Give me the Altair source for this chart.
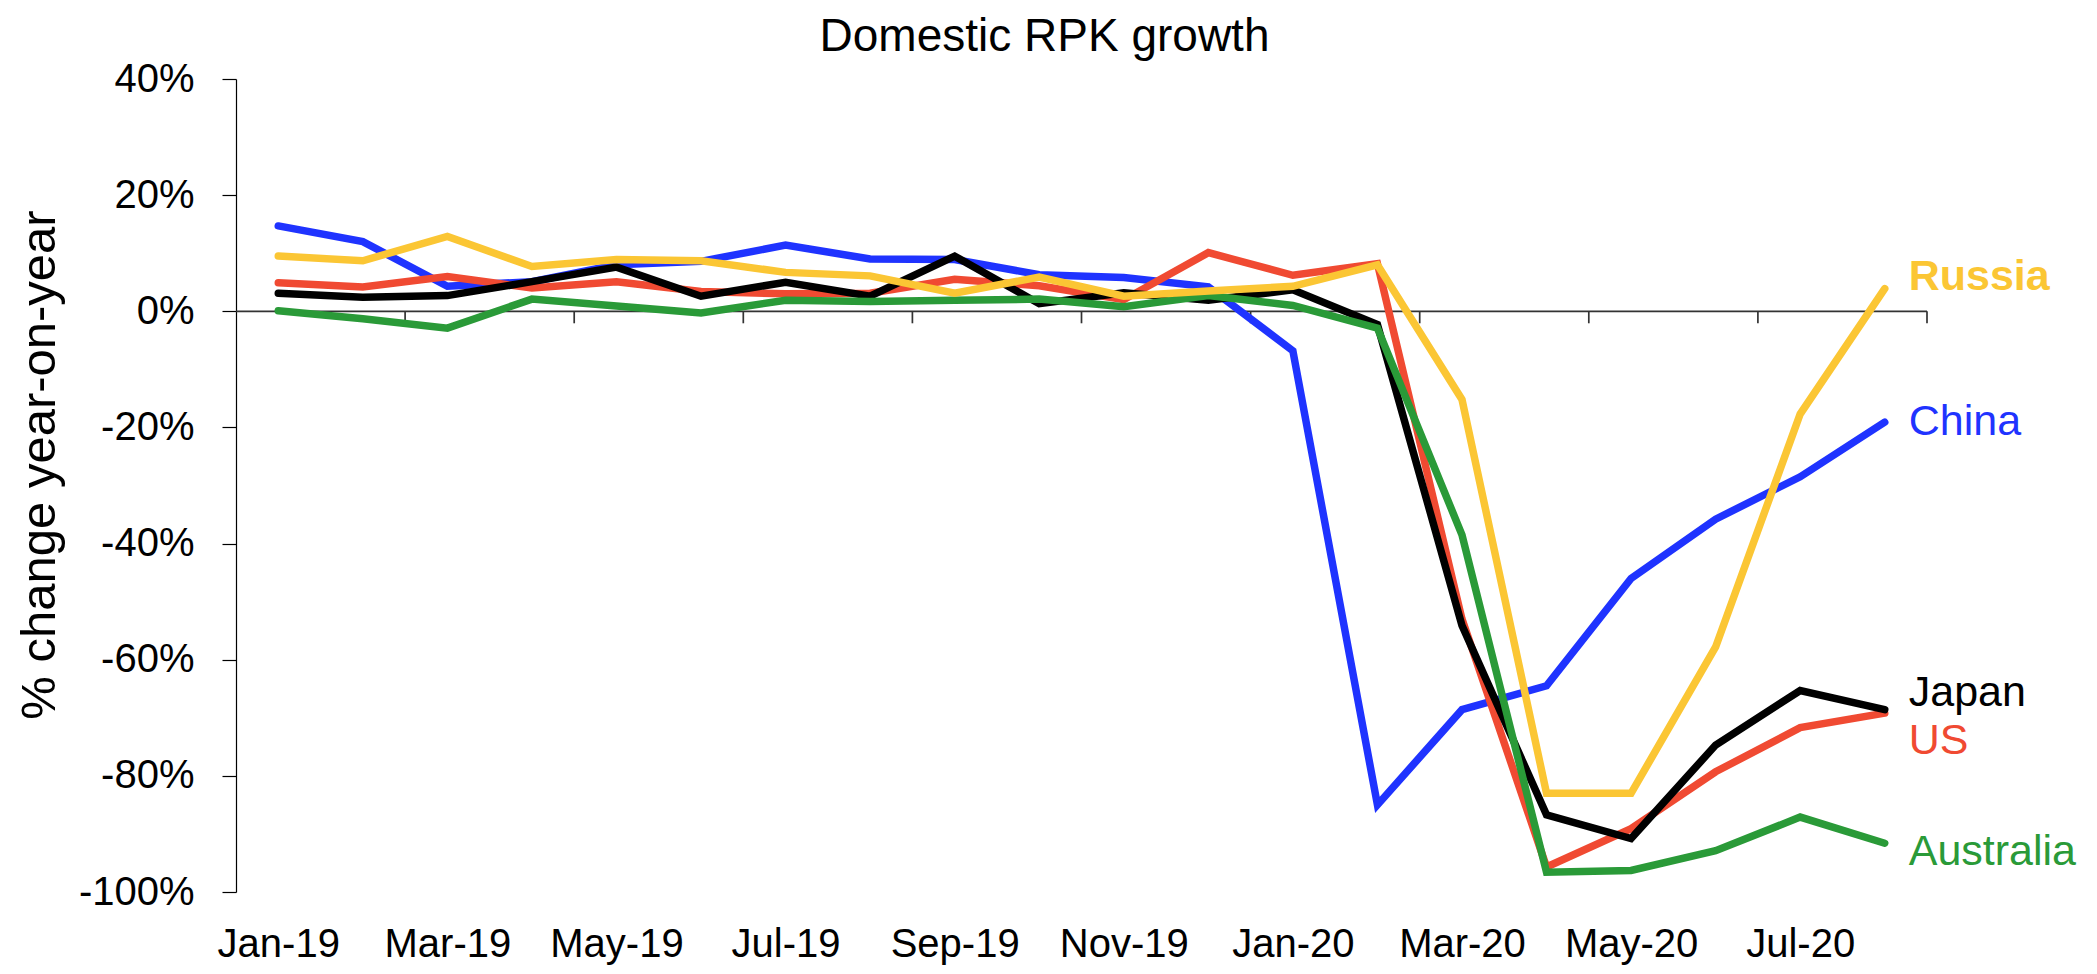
import altair as alt
import pandas as pd

months = ["Jan-19", "Feb-19", "Mar-19", "Apr-19", "May-19", "Jun-19", "Jul-19", "Aug-19",
          "Sep-19", "Oct-19", "Nov-19", "Dec-19", "Jan-20", "Feb-20", "Mar-20", "Apr-20",
          "May-20", "Jun-20", "Jul-20", "Aug-20"]

china = [14.7, 12.0, 4.3, 5.1, 8.0, 8.6, 11.4, 9.0, 8.9, 6.3, 5.8, 4.2,
         -6.8, -85.0, -68.6, -64.5, -46.0, -35.8, -28.5, -19.1]
us = [4.9, 4.2, 6.0, 4.0, 5.1, 3.4, 3.0, 3.1, 5.5, 4.4, 2.0, 10.1,
      6.2, 8.2, -53.0, -95.7, -89.1, -79.3, -71.7, -69.2]
japan = [3.1, 2.4, 2.7, 5.1, 7.6, 2.6, 5.0, 2.6, 9.5, 1.3, 3.2, 1.9,
         3.7, -2.3, -54.1, -86.7, -90.8, -74.7, -65.3, -68.6]
australia = [0.1, -1.3, -2.9, 2.1, 0.9, -0.3, 1.9, 1.7, 1.9, 2.1, 0.8, 2.7,
             1.0, -2.9, -38.5, -96.6, -96.3, -92.9, -87.1, -91.6]
russia = [9.5, 8.7, 12.9, 7.7, 8.9, 8.7, 6.7, 6.1, 3.1, 5.9, 2.6, 3.5,
          4.3, 8.0, -15.2, -83.0, -83.0, -57.8, -17.7, 3.9]

series_names = ["China", "US", "Japan", "Australia", "Russia"]
series_values = [china, us, japan, australia, russia]

y_ticks = [-100, -80, -60, -40, -20, 0, 20, 40]
x_label_idx = list(range(0, 20, 2))
x_tick_pos = [i + 0.5 for i in range(1, 20, 2)]

# styles
colors = {"China": "#1f33ff", "US": "#f04a32", "Japan": "#000000",
          "Australia": "#2a9a38", "Russia": "#fbc634"}
label_dy = {"China": 0, "US": 28, "Japan": -17, "Australia": 9, "Russia": -12}
label_bold = {"Russia": "bold"}

FONT = "Liberation Sans"
W, H = 1691, 813
YMIN, YMAX = -100, 40

months_js = "[" + ",".join("'" + m + "'" for m in months) + "]"

xscale = alt.Scale(domain=[-0.5, 19.5], nice=False, zero=False)
yscale = alt.Scale(domain=[YMIN, YMAX], nice=False, zero=False)

y_axis = alt.Axis(values=y_ticks, labelExpr="datum.value + '%'", title="% change year-on-year",
                  grid=False, domainColor="#000000", domainWidth=1.2, tickColor="#000000",
                  tickWidth=1.2, tickSize=14, labelFont=FONT, labelFontSize=40,
                  labelColor="#000000", labelPadding=28, titleFont=FONT, titleFontSize=49,
                  titleFontWeight="normal", titleColor="#000000", titlePadding=14,
                  titleY=H / 2 - 21)

bottom_axis = alt.Axis(values=x_label_idx, labelExpr=months_js + "[datum.value]", title=None,
                       grid=False, domain=False, ticks=False, labelFont=FONT, labelFontSize=40,
                       labelColor="#000000", labelPadding=32, labelOverlap=False,
                       labelFlush=False)

X = alt.X("x:Q", scale=xscale, axis=bottom_axis)
Y = alt.Y("value:Q", scale=yscale, axis=y_axis)

layers = []

# zero line with category ticks (Excel style axis crossing at 0%)
zero_df = pd.DataFrame({"value": [0]})
layers.append(
    alt.Chart(zero_df).mark_rule(color="#333333", strokeWidth=1.7).encode(y=Y)
)
tick_df = pd.DataFrame({"x": x_tick_pos, "value": [0] * len(x_tick_pos)})
layers.append(
    alt.Chart(tick_df).mark_tick(orient="vertical", size=12, thickness=1.7, color="#333333",
                                 yOffset=6, opacity=1).encode(x=X, y=Y)
)

for name, vals in zip(series_names, series_values):
    df = pd.DataFrame({"x": list(range(len(months))), "month": months, "value": vals,
                       "series": name})
    layers.append(
        alt.Chart(df).mark_line(color=colors[name], strokeWidth=7.5, strokeCap="round",
                                strokeJoin="miter").encode(x=X, y=Y)
    )

for name, vals in zip(series_names, series_values):
    ldf = pd.DataFrame({"x": [len(months) - 1], "value": [vals[-1]], "name": [name]})
    layers.append(
        alt.Chart(ldf).mark_text(align="left", baseline="middle", dx=24, dy=label_dy[name],
                                 font=FONT, fontSize=43, color=colors[name],
                                 fontWeight=label_bold.get(name, "normal")).encode(
            x=X, y=Y, text="name:N",
        )
    )

chart = alt.layer(*layers).properties(
    width=W, height=H,
    title=alt.TitleParams("Domestic RPK growth", font=FONT, fontSize=46, fontWeight="normal",
                          color="#000000", anchor="middle", dx=-37, offset=-2),
    autosize=alt.AutoSizeParams(type="none"),
    padding={"left": 228, "top": 71, "right": 162, "bottom": 74},
    background="#ffffff",
).configure_view(stroke=None)

chart.save("out.html", embed_options={"renderer": "svg", "actions": False})
